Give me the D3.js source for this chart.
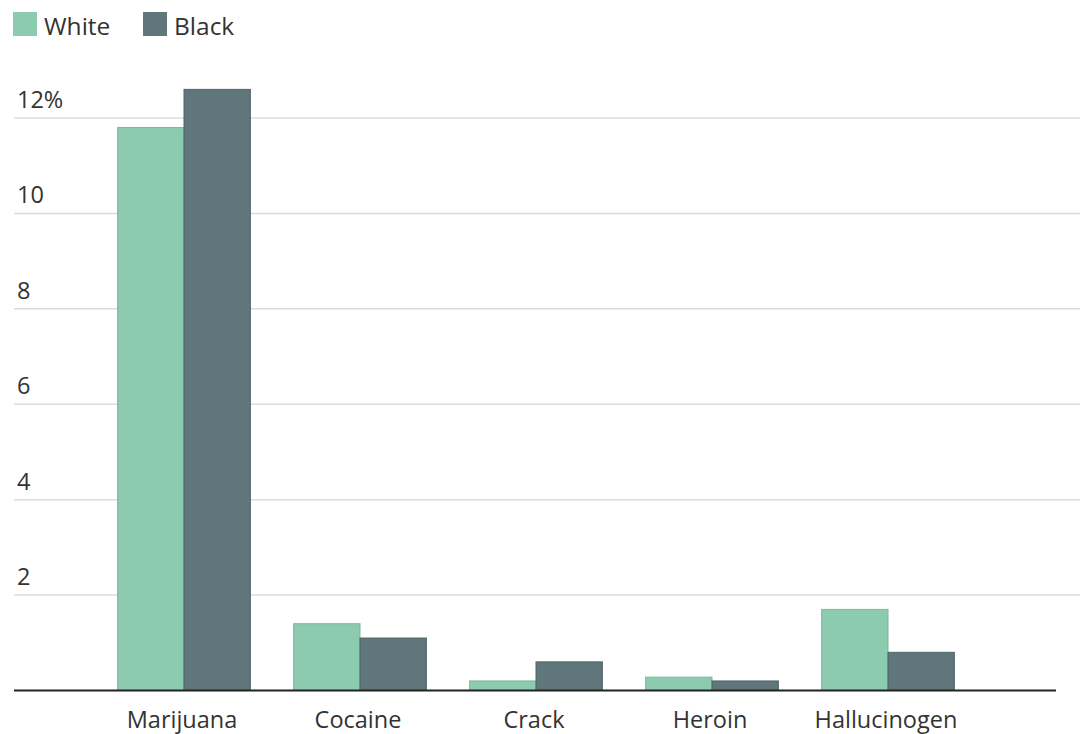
<!DOCTYPE html>
<html>
<head>
<meta charset="utf-8">
<script src="https://cdn.jsdelivr.net/npm/d3@7"></script>
<style>
  body { margin: 0; background: #fff; }
  text { font-family: "Open Sans", "Noto Sans", sans-serif; fill: #333; }
</style>
</head>
<body>
<script>
const categories = ["Marijuana", "Cocaine", "Crack", "Heroin", "Hallucinogen"];
const series = ["White", "Black"];
const whiteValues = [11.8, 1.4, 0.2, 0.28, 1.7];
const blackValues = [12.6, 1.1, 0.6, 0.2, 0.8];
const yTicks = [2, 4, 6, 8, 10, 12];

const colors = { White: "#8ccbb0", Black: "#5f777b" };
const strokes = { White: "#77b99c", Black: "#4e6569" };

const width = 1080, height = 734;

const svg = d3.select("body").append("svg")
    .attr("width", width)
    .attr("height", height);

const x = d3.scaleBand()
    .domain(categories)
    .range([96, 976])
    .paddingInner(0.246)
    .paddingOuter(0.123);

const xs = d3.scaleBand()
    .domain(series)
    .range([0, x.bandwidth()]);

const y = d3.scaleLinear()
    .domain([0, 12])
    .range([690.5, 118]);

// gridlines + tick labels
const grid = svg.append("g");
grid.selectAll("line")
    .data(yTicks)
    .enter().append("line")
    .attr("x1", 14)
    .attr("x2", width)
    .attr("y1", d => y(d))
    .attr("y2", d => y(d))
    .attr("stroke", "#dcdcdc")
    .attr("stroke-width", 1.5);

grid.selectAll("text")
    .data(yTicks)
    .enter().append("text")
    .attr("x", 17)
    .attr("y", d => y(d) - 10)
    .attr("font-size", 23.5)
    .text(d => d === 12 ? d + "%" : d);

// bars
const rows = categories.map((c, i) => ({ cat: c, White: whiteValues[i], Black: blackValues[i] }));

const group = svg.selectAll(".grp")
    .data(rows)
    .enter().append("g")
    .attr("class", "grp")
    .attr("transform", d => `translate(${x(d.cat)},0)`);

group.selectAll("rect")
    .data(d => series.map(s => ({ key: s, value: d[s] })))
    .enter().append("rect")
    .attr("x", d => xs(d.key))
    .attr("width", xs.bandwidth())
    .attr("y", d => y(d.value))
    .attr("height", d => y(0) - y(d.value))
    .attr("fill", d => colors[d.key])
    .attr("stroke", d => strokes[d.key])
    .attr("stroke-width", 1);

// baseline
svg.append("line")
    .attr("x1", 14)
    .attr("x2", 1056)
    .attr("y1", y(0))
    .attr("y2", y(0))
    .attr("stroke", "#222")
    .attr("stroke-width", 2);

// category labels
svg.append("g").selectAll("text")
    .data(categories)
    .enter().append("text")
    .attr("x", d => x(d) + x.bandwidth() / 2 - 2)
    .attr("y", 728)
    .attr("text-anchor", "middle")
    .attr("font-size", 23.5)
    .text(d => d);

// legend
const legendX = [13, 143];
const legend = svg.append("g").selectAll("g")
    .data(series)
    .enter().append("g")
    .attr("transform", (d, i) => `translate(${legendX[i]},12)`);

legend.append("rect")
    .attr("width", 24)
    .attr("height", 24)
    .attr("fill", d => colors[d]);

legend.append("text")
    .attr("x", 31)
    .attr("y", 23)
    .attr("font-size", 24.5)
    .text(d => d);
</script>
</body>
</html>
